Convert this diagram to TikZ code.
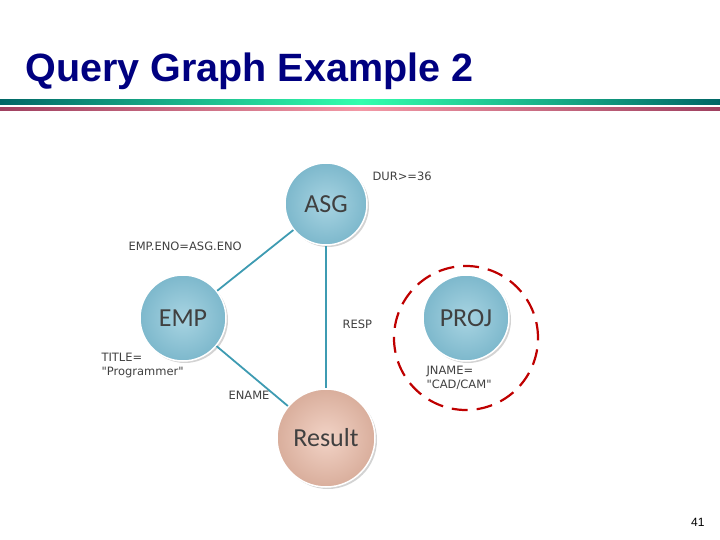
\documentclass[tikz,border=0pt]{standalone}
\usepackage{fontspec}
\setmainfont{Liberation Sans}
\newfontfamily\bodyf{Carlito}
\newfontfamily\lblf{DejaVu Sans}
\usetikzlibrary{shadows}
\definecolor{nodein}{HTML}{A8D4E2}
\definecolor{nodeout}{HTML}{7DB8CC}
\definecolor{resin}{HTML}{F2D3C6}
\definecolor{resout}{HTML}{D9AE9C}
\definecolor{edgec}{HTML}{3E9BB2}
\begin{document}
\begin{tikzpicture}[x=1pt,y=-1pt,
 ent/.style={circle,draw=white,line width=1.5pt,inner sep=0pt,font=\bodyf\fontsize{26}{26}\selectfont,text=black!75,drop shadow={shadow xshift=2pt,shadow yshift=-2pt,opacity=0.35}},
 blue/.style={ent,inner color=nodein,outer color=nodeout},
 res/.style={ent,inner color=resin,outer color=resout},
 edge/.style={draw=edgec,line width=1.8pt},
 lbl/.style={font=\lblf\fontsize{11.5}{14}\selectfont,text=black!75,align=left}]
\useasboundingbox (0,0) rectangle (720,540);
\node[anchor=west,font=\bfseries\fontsize{39.5}{40}\selectfont,text=blue!50!black] (title) at (22,71) {Query Graph Example 2};
\shade[left color=teal!80!black,right color=cyan!60!green!80!white] (0,100) rectangle (360,105);
\shade[right color=teal!80!black,left color=cyan!60!green!80!white] (360,100) rectangle (720,105);
\shade[left color=purple!50!gray,right color=pink!80!purple] (0,108) rectangle (360,111);
\shade[right color=purple!50!gray,left color=pink!80!purple] (360,108) rectangle (720,111);
\node[blue,minimum size=82pt] (asg) at (326,204) {ASG};
\node[blue,minimum size=86pt] (emp) at (183,318) {EMP};
\node[blue,minimum size=86pt] (proj) at (466,318) {PROJ};
\node[res,minimum size=98pt] (res) at (326,438) {Result};
\draw[edge] (asg) -- (emp);
\draw[edge] (asg) -- (res);
\draw[edge] (emp) -- (res);
\node[draw=red!75!black,line width=2.2pt,dash pattern=on 16pt off 9pt,circle,minimum size=144pt] (ring) at (466,338) {};
\node[lbl,anchor=west] (l1) at (369,176) {DUR>=36};
\node[lbl,anchor=west] (l2) at (125,246) {EMP.ENO=ASG.ENO};
\node[lbl,anchor=west] (l3) at (339,324) {RESP};
\node[lbl,anchor=west] (l4) at (98,366) {TITLE=\\"Programmer"};
\node[lbl,anchor=west] (l5) at (225,395) {ENAME};
\node[lbl,anchor=west] (l6) at (423,378) {JNAME=\\"CAD/CAM"};
\node[anchor=east,font=\fontsize{12}{14}\selectfont] (pg) at (708,522) {41};
\end{tikzpicture}
\end{document}
